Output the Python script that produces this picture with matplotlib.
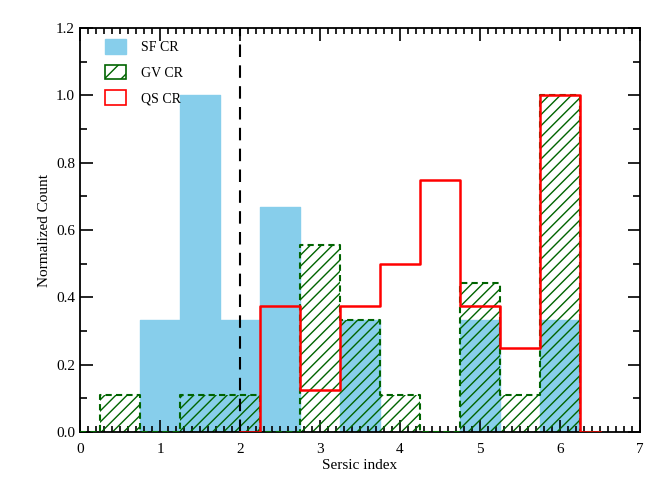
import numpy as np
import matplotlib
matplotlib.use("Agg")
import matplotlib.pyplot as plt
from matplotlib.patches import Patch
from matplotlib.ticker import MultipleLocator

plt.rcParams['font.family'] = ['Liberation Serif', 'DejaVu Serif']
plt.rcParams['hatch.linewidth'] = 1.0

sf_centers = [0.0, 0.5, 1.0, 1.5, 2.0, 2.5, 3.0, 3.5, 4.0, 4.5, 5.0, 5.5, 6.0, 6.5]
sf_values = [0.0, 0.0, 0.333, 1.0, 0.333, 0.667, 0.0, 0.333, 0.0, 0.0, 0.333, 0.0, 0.333, 0.0]

gv_centers = [0.0, 0.5, 1.0, 1.5, 2.0, 2.5, 3.0, 3.5, 4.0, 4.5, 5.0, 5.5, 6.0, 6.5]
gv_values = [0.0, 0.111, 0.0, 0.111, 0.111, 0.0, 0.556, 0.333, 0.111, 0.0, 0.444, 0.111, 1.0, 0.0]

qs_centers = [2.0, 2.5, 3.0, 3.5, 4.0, 4.5, 5.0, 5.5, 6.0, 6.5]
qs_values = [0.0, 0.375, 0.125, 0.375, 0.5, 0.75, 0.375, 0.25, 1.0, 0.0]

divider = 2.0
labels = ["SF CR", "GV CR", "QS CR"]


def step_path(c, v):
    c = np.asarray(c, float)
    v = np.asarray(v, float)
    mids = (c[:-1] + c[1:]) / 2
    xs = [c[0]]
    ys = [v[0]]
    for i, m in enumerate(mids):
        xs += [m, m]
        ys += [v[i], v[i + 1]]
    xs.append(c[-1])
    ys.append(v[-1])
    return np.array(xs), np.array(ys)


fig = plt.figure(figsize=(6.64, 4.83), dpi=100)
ax = fig.add_axes([0.1205, 0.1056, 0.8434, 0.8364])

x, y = step_path(sf_centers, sf_values)
ax.fill(np.r_[x, x[-1], x[0]], np.r_[y, 0, 0], color='skyblue', lw=0, zorder=1)
ax.plot(x, y, color='skyblue', lw=1, zorder=1)

x, y = step_path(gv_centers, gv_values)
ax.fill(np.r_[x, x[-1], x[0]], np.r_[y, 0, 0], facecolor='none', edgecolor='darkgreen',
        hatch='///', lw=0, zorder=2)
ax.plot(x, y, color='darkgreen', lw=1.5, ls=(0, (3, 2)), zorder=3)

ax.axvline(divider, color='black', ls=(0, (6, 4)), lw=1.5, zorder=4)

x, y = step_path(qs_centers, qs_values)
ax.plot(x, y, color='red', lw=1.8, zorder=5)

ax.set_xlim(0, 7)
ax.set_ylim(0, 1.2)
ax.xaxis.set_major_locator(MultipleLocator(1))
ax.xaxis.set_minor_locator(MultipleLocator(0.1))
ax.yaxis.set_major_locator(MultipleLocator(0.2))
ax.yaxis.set_minor_locator(MultipleLocator(0.1))
ax.xaxis.set_major_formatter(plt.FuncFormatter(lambda v, p: f"{int(round(v))}"))
ax.yaxis.set_major_formatter(plt.FuncFormatter(lambda v, p: f"{v:.1f}"))
ax.tick_params(which='both', direction='in', top=True, right=True, labelsize=11, width=1.2)
ax.tick_params(axis='x', which='major', pad=8)
ax.tick_params(which='major', length=9)
ax.tick_params(axis='x', which='minor', length=4)
ax.tick_params(axis='y', which='minor', length=5)
for s in ax.spines.values():
    s.set_linewidth(1.3)

ax.set_xlabel("Sersic index", fontsize=11, labelpad=2)
ax.set_ylabel("Normalized Count", fontsize=11, labelpad=4)

handles = [
    Patch(facecolor='skyblue', edgecolor='skyblue'),
    Patch(facecolor='white', edgecolor='darkgreen', hatch='//', lw=1.2),
    Patch(facecolor='white', edgecolor='red', lw=1.2),
]
ax.legend(handles, labels, loc='upper left', frameon=False, fontsize=10,
          handlelength=1.5, handleheight=1.25, borderaxespad=0.4, labelspacing=0.75,
          handletextpad=1.1, bbox_to_anchor=(0.025, 1.0))

fig.savefig("out.png", dpi=100)
